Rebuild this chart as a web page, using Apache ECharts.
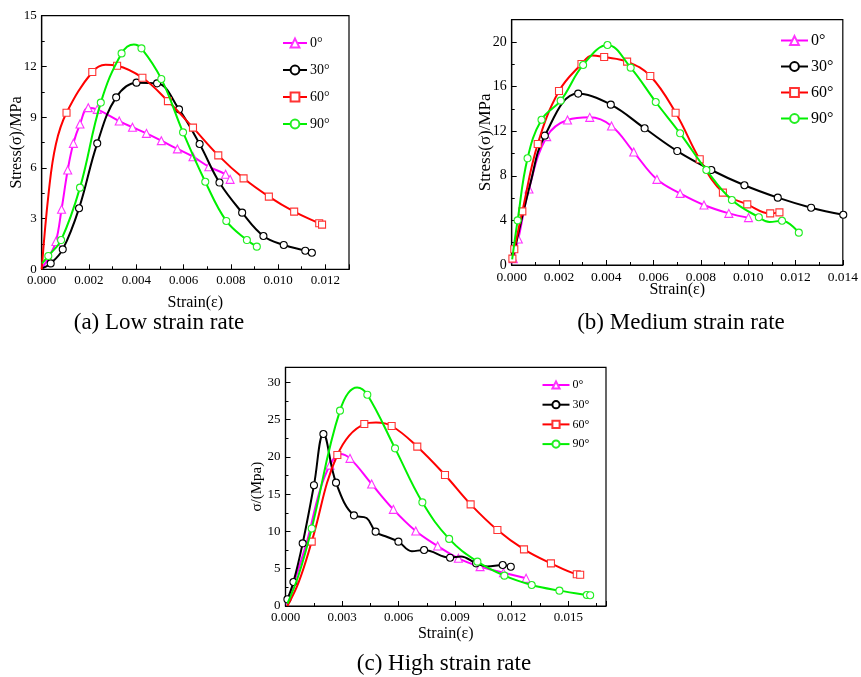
<!DOCTYPE html>
<html>
<head>
<meta charset="utf-8">
<script src="https://cdn.jsdelivr.net/npm/echarts@6/dist/echarts.min.js"></script>
<style>html,body{margin:0;padding:0;background:#fff}#c{width:861px;height:677px}</style>
</head>
<body>
<div id="c"></div>
<script>
// ---------- data ----------
const seriesNames = ['0°', '30°', '60°', '90°'];
const panelTitles = ['(a) Low strain rate', '(b) Medium strain rate', '(c) High strain rate'];
const xAxisName = 'Strain(ε)';
const yAxisNames = ['Stress(σ)/MPa', 'Stress(σ)/MPa', 'σ/(Mpa)'];

const aXTicks = ['0.000', '0.002', '0.004', '0.006', '0.008', '0.010', '0.012'];
const aYTicks = ['0', '3', '6', '9', '12', '15'];
const bXTicks = ['0.000', '0.002', '0.004', '0.006', '0.008', '0.010', '0.012', '0.014'];
const bYTicks = ['0', '4', '8', '12', '16', '20'];
const cXTicks = ['0.000', '0.003', '0.006', '0.009', '0.012', '0.015'];
const cYTicks = ['0', '5', '10', '15', '20', '25', '30'];

// (a) Low strain rate  — marked points / unmarked curve points
const a0 = [[0.0006,1.64],[0.00084,3.55],[0.0011,5.87],[0.00134,7.45],[0.00162,8.59],[0.00197,9.56],[0.00235,9.46],[0.00328,8.77],[0.00384,8.4],[0.00443,8.04],[0.00506,7.61],[0.00574,7.12],[0.0064,6.66],[0.00707,6.07],[0.00778,5.62],[0.00797,5.32]];
const a0x = [[0.00002,0.1],[0.0003,0.7]];
const a30 = [[0.00038,0.35],[0.00089,1.18],[0.00158,3.61],[0.00235,7.45],[0.00315,10.17],[0.00401,11.04],[0.00488,11.0],[0.00581,9.46],[0.00668,7.41],[0.00752,5.13],[0.00848,3.35],[0.00938,1.97],[0.01024,1.44],[0.01115,1.1],[0.01143,0.98]];
const a30x = [[0.00002,0.05]];
const a60 = [[0.00105,9.26],[0.00214,11.67],[0.00319,12.04],[0.00426,11.33],[0.00534,9.95],[0.0064,8.38],[0.00747,6.74],[0.00854,5.38],[0.00961,4.3],[0.01068,3.41],[0.01174,2.72],[0.01186,2.64]];
const a60x = [[0,0],[0.0003,4.6],[0.0006,7.4],[0.0027,12.1]];
const a90 = [[0.00028,0.79],[0.00082,1.73],[0.00162,4.83],[0.0025,9.86],[0.00338,12.77],[0.00422,13.07],[0.00506,11.26],[0.00598,8.1],[0.00692,5.18],[0.00781,2.86],[0.00868,1.73],[0.0091,1.34]];
const a90x = [[0.00002,0.35],[0.0039,13.3]];

// (b) Medium strain rate
const b0 = [[0.00007,0.57],[0.00028,2.33],[0.00073,6.82],[0.00148,11.51],[0.00236,13.0],[0.0033,13.24],[0.00422,12.47],[0.00516,10.13],[0.00614,7.68],[0.00712,6.42],[0.00813,5.38],[0.00918,4.63],[0.01001,4.25]];
const b0x = [];
const b30 = [[0.0014,11.6],[0.00281,15.37],[0.00419,14.38],[0.00562,12.26],[0.007,10.22],[0.00844,8.52],[0.00984,7.15],[0.01125,6.04],[0.01266,5.14],[0.01402,4.51]];
const b30x = [[0.00002,0.3],[0.0008,7.4]];
const b60 = [[0.00003,0.57],[0.00011,1.41],[0.00045,4.81],[0.0011,10.85],[0.002,15.6],[0.00295,18.03],[0.00391,18.65],[0.00488,18.24],[0.00586,16.95],[0.00693,13.66],[0.00795,9.48],[0.00893,6.49],[0.00996,5.44],[0.01093,4.63],[0.01132,4.72]];
const b60x = [[0.0034,18.8]];
const b90 = [[0.00025,4.0],[0.00067,9.57],[0.00126,13.03],[0.00207,14.74],[0.00302,17.94],[0.00405,19.73],[0.00503,17.7],[0.00609,14.62],[0.00712,11.81],[0.00823,8.52],[0.00931,5.83],[0.01045,4.28],[0.01143,3.97],[0.01214,2.9]];
const b90x = [[0.00002,0.5],[0.0109,3.85]];

// (c) High strain rate
const c0 = [[0.00236,18.9],[0.00342,19.8],[0.00457,16.36],[0.00572,12.96],[0.00691,10.06],[0.00807,8.05],[0.00917,6.4],[0.01032,5.28],[0.01156,4.47],[0.01276,3.71]];
const c0x = [[0.00005,0.2],[0.0011,8.3],[0.0018,15.3],[0.0029,20.4]];
const c30 = [[0.0001,0.9],[0.00042,3.22],[0.00091,8.4],[0.00151,16.2],[0.00201,23.07],[0.00268,16.54],[0.00363,12.16],[0.00478,9.97],[0.00599,8.63],[0.00735,7.51],[0.00873,6.48],[0.01011,5.72],[0.01152,5.5],[0.01195,5.27]];
const c30x = [[0.0043,11.8],[0.0054,9.25],[0.0067,7.35],[0.0093,6.65],[0.0107,5.3]];
const c60 = [[0.00139,8.63],[0.00275,20.25],[0.00418,24.4],[0.00563,24.14],[0.00699,21.37],[0.00846,17.57],[0.00982,13.63],[0.01124,10.19],[0.01265,7.6],[0.01408,5.72],[0.01545,4.25],[0.01563,4.2]];
const c60x = [[0.0001,0],[0.0007,3.2],[0.0048,24.6]];
const c90 = [[0.00139,10.4],[0.00289,26.2],[0.00434,28.34],[0.00581,21.14],[0.00726,13.9],[0.00868,9.0],[0.01018,5.95],[0.01161,4.07],[0.01306,2.82],[0.01453,2.06],[0.01598,1.48],[0.01616,1.45]];
const c90x = [[0.0001,0.3],[0.0007,4.2],[0.0038,29.3]];

// ---------- styling / layout ----------
const FONT = '"Liberation Serif", "Times New Roman", serif';
const colors = ['#ff00ff', '#000000', '#ff0000', '#00f000'];
const markColors = ['#ff33ff', '#000000', '#ff3333', '#22ee22'];
const symbols = ['triangle', 'circle', 'rect', 'circle'];
const symSizes = [8, 7, 7, 7];

const panels = [
  { marks: [a0, a30, a60, a90], extras: [a0x, a30x, a60x, a90x],
    grid: { left: 41.7, top: 15.7, right: 512, bottom: 407.7 },
    x: { max: 0.013, interval: 0.002, labels: aXTicks, digits: 3, nameGap: 25, fs: 13 },
    y: { max: 15, interval: 3, labels: aYTicks, nameGap: 17, fs: 13, nfs: 16 } },
  { marks: [b0, b30, b60, b90], extras: [b0x, b30x, b60x, b90x],
    grid: { left: 511.7, top: 19.7, right: 16, bottom: 412 },
    x: { max: 0.014, interval: 0.002, labels: bXTicks, digits: 3, nameGap: 17, fs: 13.5 },
    y: { max: 22, interval: 4, labels: bYTicks, nameGap: 18, fs: 14, nfs: 17 } },
  { marks: [c0, c30, c60, c90], extras: [c0x, c30x, c60x, c90x],
    grid: { left: 285.5, top: 367.4, right: 255, bottom: 71 },
    x: { max: 0.017, interval: 0.003, labels: cXTicks, digits: 3, nameGap: 20, fs: 13 },
    y: { max: 32, interval: 5, labels: cYTicks, nameGap: 21, fs: 13, nfs: 15 } }
];

function mergeData(marks, extras) {
  const all = marks.map(p => ({ value: p }))
    .concat(extras.map(p => ({ value: p, symbol: 'none' })));
  all.sort((u, v) => u.value[0] - v.value[0]);
  return all;
}

const grids = [], xAxes = [], yAxes = [], series = [];
panels.forEach((p, pi) => {
  grids.push(Object.assign({ show: true, borderColor: '#000', borderWidth: 1.2, backgroundColor: 'transparent', containLabel: false }, p.grid));
  xAxes.push({
    type: 'value', gridIndex: pi, min: 0, max: p.x.max, interval: p.x.interval,
    name: xAxisName, nameLocation: 'middle', nameGap: p.x.nameGap, nameMoveOverlap: false,
    nameTextStyle: { fontFamily: FONT, fontSize: 16, color: '#000' },
    axisLine: { show: true, onZero: false, lineStyle: { color: '#000', width: 1.2 } },
    axisTick: { show: true, inside: true, length: 5, lineStyle: { color: '#000' } },
    minorTick: { show: true, splitNumber: 2, length: 3, lineStyle: { color: '#000' } },
    splitLine: { show: false },
    axisLabel: { color: '#000', fontFamily: FONT, fontSize: p.x.fs, margin: 5,
      showMaxLabel: true,
      formatter: v => { const s = v.toFixed(p.x.digits); return p.x.labels.includes(s) ? s : ''; } }
  });
  yAxes.push({
    type: 'value', gridIndex: pi, min: 0, max: p.y.max, interval: p.y.interval,
    name: yAxisNames[pi], nameLocation: 'middle', nameGap: p.y.nameGap, nameRotate: 90, nameMoveOverlap: false,
    nameTextStyle: { fontFamily: FONT, fontSize: p.y.nfs, color: '#000' },
    axisLine: { show: true, onZero: false, lineStyle: { color: '#000', width: 1.2 } },
    axisTick: { show: true, inside: true, length: 5, lineStyle: { color: '#000' } },
    minorTick: { show: true, splitNumber: 2, length: 3, lineStyle: { color: '#000' } },
    splitLine: { show: false },
    axisLabel: { color: '#000', fontFamily: FONT, fontSize: p.y.fs, margin: 5,
      formatter: v => { const s = String(Math.round(v)); return (p.y.labels.includes(s) && Math.abs(v - Math.round(v)) < 1e-9) ? s : ''; } }
  });
  seriesNames.forEach((nm, si) => {
    series.push({
      type: 'line', name: nm, xAxisIndex: pi, yAxisIndex: pi,
      data: mergeData(p.marks[si], p.extras[si]),
      smooth: 0.4, showAllSymbol: true, symbol: symbols[si], symbolSize: symSizes[si],
      clip: false,
      lineStyle: { color: colors[si], width: 2 },
      itemStyle: { color: '#ffffff', borderColor: markColors[si], borderWidth: 1.1 },
      emphasis: { disabled: true }, animation: false, z: 2 + si
    });
  });
});

const legendBase = { orient: 'vertical', data: seriesNames, selectedMode: false, padding: 0,
  inactiveColor: '#000' };
const legends = [
  Object.assign({}, legendBase, { left: 282, top: 36, itemWidth: 24, itemHeight: 11, itemGap: 13,
    textStyle: { fontFamily: FONT, fontSize: 14, color: '#000', padding: [0, 0, 0, -2] } }),
  Object.assign({}, legendBase, { left: 780, top: 32.5, itemWidth: 27, itemHeight: 11, itemGap: 10,
    textStyle: { fontFamily: FONT, fontSize: 16, color: '#000', padding: [0, 0, 0, -2] } }),
  Object.assign({}, legendBase, { left: 541.5, top: 379, itemWidth: 27, itemHeight: 9, itemGap: 7.7,
    textStyle: { fontFamily: FONT, fontSize: 12, color: '#000', padding: [0, 0, 0, -2] } })
];

const titlePos = [[159, 323], [681, 323], [444, 664]];
const graphics = panelTitles.map((t, i) => ({
  type: 'text', x: titlePos[i][0], y: titlePos[i][1],
  style: { text: t, font: '23px ' + FONT, fill: '#000', align: 'center', verticalAlign: 'middle' }
}));

const chart = echarts.init(document.getElementById('c'), null, { renderer: 'canvas' });
chart.setOption({
  backgroundColor: '#fff', animation: false,
  grid: grids, xAxis: xAxes, yAxis: yAxes, series: series,
  legend: legends, graphic: graphics
});
</script>
</body>
</html>
